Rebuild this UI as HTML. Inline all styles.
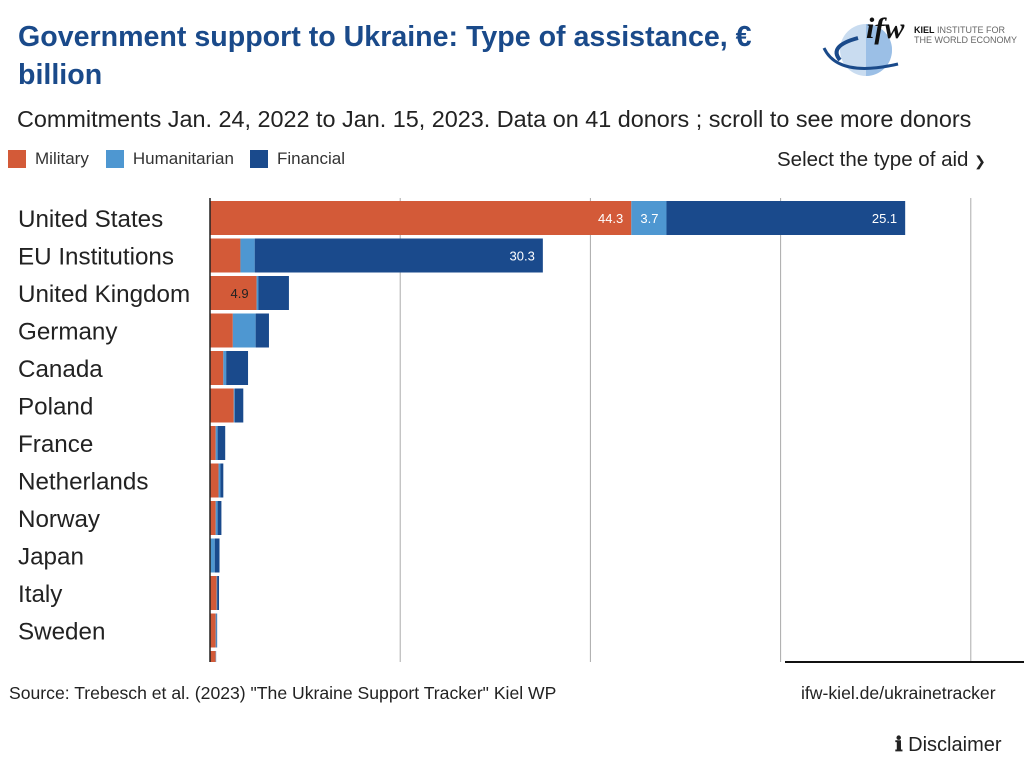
<!DOCTYPE html>
<html><head><meta charset="utf-8">
<style>
body{margin:0;width:1024px;height:768px;background:#fff;font-family:"Liberation Sans",sans-serif;position:relative;overflow:hidden;color:#222}
.abs{position:absolute}
</style></head>
<body>
<div class="abs" style="left:18px;top:18px;width:760px;font-size:28.6px;font-weight:bold;color:#1a4a8a;line-height:38px">Government support to Ukraine: Type of assistance, € billion</div>
<div class="abs" style="left:818px;top:8px;width:206px;height:75px">
<svg width="206" height="75"><ellipse cx="48" cy="42" rx="26" ry="26" fill="#c9dcf0"/><path d="M48 16 A26 26 0 0 1 48 68 Z" fill="#9bbfe6"/><path d="M22 52 Q10 38 40 30" stroke="#1a4a8a" stroke-width="4" fill="none"/><path d="M6 40 Q20 70 80 56" stroke="#1a4a8a" stroke-width="3" fill="none"/>
<text x="48" y="30" font-family="Liberation Serif" font-style="italic" font-weight="bold" font-size="30" fill="#111">ifw</text>
<text x="96" y="25" font-size="9" fill="#111"><tspan font-weight="bold">KIEL</tspan> <tspan fill="#666">INSTITUTE FOR</tspan></text>
<text x="96" y="35" font-size="9" fill="#666">THE WORLD ECONOMY</text></svg></div>
<div class="abs" style="left:17px;top:106px;font-size:23.4px;color:#222">Commitments Jan. 24, 2022 to Jan. 15, 2023. Data on 41 donors ; scroll to see more donors</div>
<div class="abs" style="left:8px;top:149px;font-size:17px;color:#333;display:flex;align-items:center">
<span style="display:flex;align-items:center"><i style="width:18px;height:18px;background:#d35a38;display:inline-block;margin-right:9px"></i>Military</span>
<span style="display:flex;align-items:center;margin-left:17px"><i style="width:18px;height:18px;background:#4e97d1;display:inline-block;margin-right:9px"></i>Humanitarian</span>
<span style="display:flex;align-items:center;margin-left:16px"><i style="width:18px;height:18px;background:#1a4a8c;display:inline-block;margin-right:9px"></i>Financial</span></div>
<div class="abs" style="left:777px;top:148px;font-size:20.5px;color:#222">Select the type of aid <span style="font-size:14px">&#10095;</span></div>
<svg class="abs" style="left:0;top:0" width="1024" height="768" id="chart"></svg>
<div class="abs" style="left:9px;top:683px;font-size:17.6px;color:#222">Source: Trebesch et al. (2023) "The Ukraine Support Tracker" Kiel WP</div>
<div class="abs" style="left:801px;top:683px;font-size:17.6px;color:#222">ifw-kiel.de/ukrainetracker</div>
<div class="abs" style="left:895px;top:732px;font-size:20px;color:#222"><b>&#8505;</b> Disclaimer</div>
<script>
const countries=["United States","EU Institutions","United Kingdom","Germany","Canada","Poland","France","Netherlands","Norway","Japan","Italy","Sweden","Denmark"];
const military=[44.3,3.2,4.9,2.4,1.4,2.5,0.6,0.9,0.6,0,0.7,0.6,0.6];
const humanitarian=[3.7,1.5,0.2,2.4,0.3,0.1,0.2,0.2,0.2,0.5,0.05,0.1,0.05];
const financial=[25.1,30.3,3.2,1.4,2.3,0.9,0.8,0.3,0.4,0.5,0.2,0.05,0];
const gridTicks=[20,40,60,80];
const svg=document.getElementById('chart');const NS='http://www.w3.org/2000/svg';
const x0=210,k=9.51,top0=201,pitch=37.5,bh=34,clipY=662;
const xs=v=>x0+v*k;
function mk(t,a){const e=document.createElementNS(NS,t);for(const n in a)e.setAttribute(n,a[n]);svg.appendChild(e);return e;}
gridTicks.forEach(t=>{const l=mk('line',{x1:xs(t),x2:xs(t),y1:198,y2:clipY,stroke:'#aaa','stroke-width':1});

});
const cols=['#d35a38','#4e97d1','#1a4a8c'];
countries.forEach((c,i)=>{const y=top0+i*pitch;const h=Math.min(bh,clipY-y);if(h<=0)return;
 const vals=[military[i],humanitarian[i],financial[i]];let acc=0;
 vals.forEach((v,j)=>{const r=mk('rect',{x:xs(acc),y:y,width:Math.max(0,v*k),height:h,fill:cols[j]});
  
  
  if((i==0)||(i==1&&j==2)||(i==2&&j==0)){const tx=mk('text',{x:xs(acc+v)-8,y:y+h/2+5,'text-anchor':'end','font-size':13,fill:(i==2?'#222':'#fff')});tx.textContent=v.toFixed(1);
   
   }
  acc+=v;});
 if(y+20<clipY){const t=mk('text',{x:18,y:y+h/2+9,'font-size':24.2,fill:'#222'});t.textContent=c;
 
 }
});
const ax=mk('line',{x1:x0,x2:x0,y1:198,y2:clipY,stroke:'#222','stroke-width':1.5});


const bl=mk('line',{x1:785,x2:1024,y1:clipY,y2:clipY,stroke:'#111','stroke-width':2});


</script>
</body></html>
